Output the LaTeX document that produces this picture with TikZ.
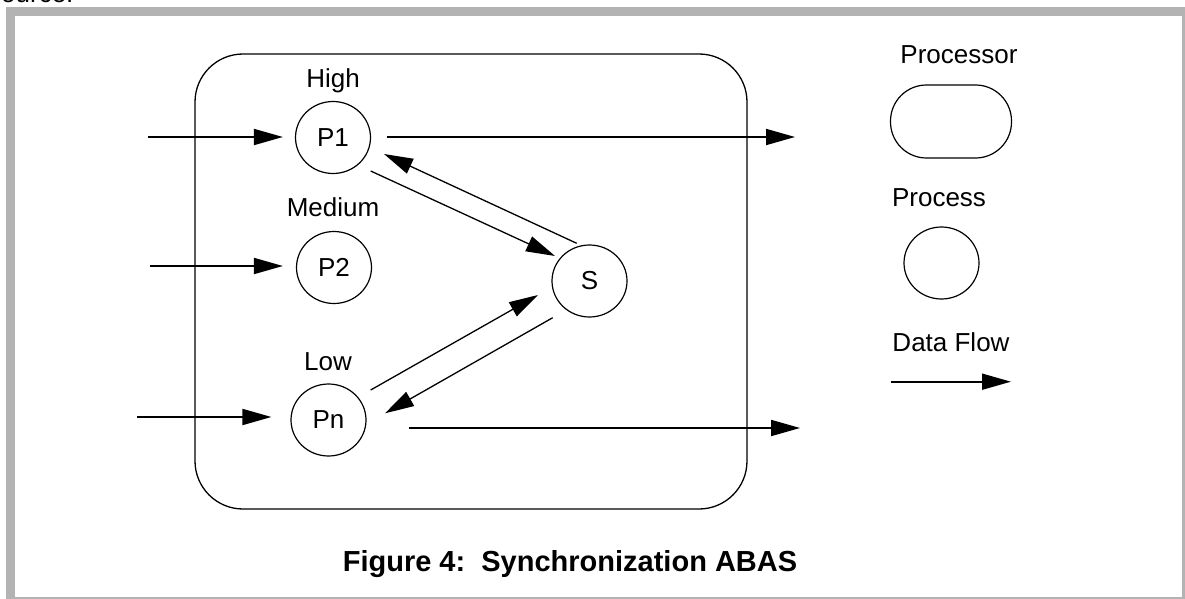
\documentclass[tikz,border=0pt]{standalone}
\usepackage{fontspec}
\setmainfont{Liberation Sans}
\usetikzlibrary{arrows.meta,shapes.geometric,calc}
\definecolor{framegrey}{HTML}{B3B3B3}
\begin{document}
\begin{tikzpicture}[x=1pt,y=-1pt,
  proc/.style={ellipse,draw,line width=1.2pt,minimum width=75pt,minimum height=72pt,
    inner sep=0pt,font=\fontsize{26}{30}\selectfont},
  lbl/.style={anchor=base,font=\fontsize{26}{30}\selectfont},
  flow/.style={line width=1.8pt,-{Triangle[length=29pt,width=16pt]}},
  link/.style={line width=1.3pt,-{Triangle[length=29pt,width=16pt]}}]
\useasboundingbox (0,0) rectangle (1185,599);
% page frame
\fill[white] (0,0) rectangle (1185,599);
\fill[framegrey] (6,7) rectangle (1185,599);
\fill[white] (15,16) rectangle (1182,597);
\begin{scope}
  \clip (0,0) rectangle (1185,7);
  \node[lbl,anchor=base west,inner sep=0pt] (prev) at (1,3) {ource.};
\end{scope}

% processor boundary
\draw[line width=1.3pt,rounded corners=48pt] (195,54) rectangle (747,509);

% processes
\node[proc] (P1) at (333,137.5) {P1};
\node[proc] (P2) at (334,267.5) {P2};
\node[proc] (Pn) at (328.5,420) {Pn};
\node[proc] (S) at (589.5,281) {S};
\node[lbl] (lhigh) at (333,88) {High};
\node[lbl] (lmed) at (333,216.5) {Medium};
\node[lbl] (llow) at (328,370) {Low};

% inputs
\coordinate (in1) at (148,137);
\coordinate (in2) at (150,266);
\coordinate (inN) at (137,417);
\draw[flow,shorten >=12pt] (in1) -- (in1 -| P1.west);
\draw[flow,shorten >=13pt] (in2) -- (in2 -| P2.west);
\draw[flow,shorten >=19pt] (inN) -- (inN -| Pn.west);

% outputs
\coordinate (out1) at (795,137);
\coordinate (outN) at (800,428);
\draw[flow,shorten <=15.5pt] (P1.east |- out1) -- (out1);
\draw[flow,shorten <=42pt] (Pn.east |- outN) -- (outN);

% synchronization links
\draw[link] ($(P1)+(37.7,33.5)$) -- ($(S)+(-34.5,-25)$);
\draw[link] ($(S)+(-12.8,-37.7)$) -- ($(P1)+(51,16.5)$);
\draw[link] ($(Pn)+(42.2,-30)$) -- ($(S)+(-51.5,14)$);
\draw[link] ($(S)+(-36.8,36.7)$) -- ($(Pn)+(56.5,-6.7)$);

% legend
\node[lbl] (tproc) at (959,64) {Processor};
\node[draw,line width=1.2pt,rounded corners=36pt,minimum width=121pt,minimum height=73pt] (cpu) at (951,121.5) {};
\node[lbl] (tprocess) at (939,206.7) {Process};
\node[proc] (legproc) at (941.5,263) {};
\node[lbl] (tflow) at (951,351.7) {Data Flow};
\coordinate (dfa) at (891,381.7);
\coordinate (dfb) at (1011,381.7);
\draw[flow] (dfa) -- (dfb);

% caption
\node[anchor=base,font=\bfseries\fontsize{29}{34}\selectfont] (cap) at (570,571) {Figure 4:\ \ Synchronization ABAS};
\end{tikzpicture}
\end{document}
